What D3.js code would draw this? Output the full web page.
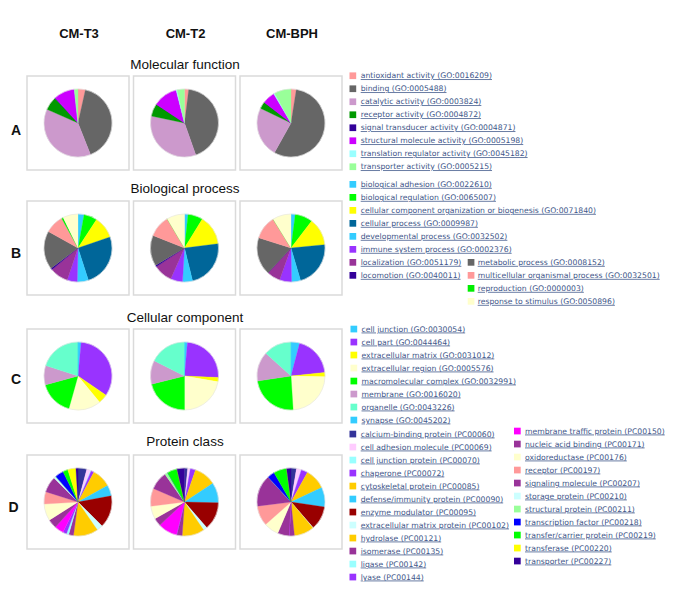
<!DOCTYPE html>
<html><head><meta charset="utf-8">
<script src="https://cdn.jsdelivr.net/npm/d3@7"></script>
<style>body{margin:0;background:#fff}</style>
</head><body>
<svg id="chart" width="673" height="596"></svg>
<script>
// ---------- DATA ----------
const columns = ["CM-T3", "CM-T2", "CM-BPH"];
const rowLetters = ["A", "B", "C", "D"];
const rowTitles = ["Molecular function", "Biological process", "Cellular component", "Protein class"];

// Molecular function
const mfCategories = ["antioxidant activity (GO:0016209)", "binding (GO:0005488)", "catalytic activity (GO:0003824)", "receptor activity (GO:0004872)", "signal transducer activity (GO:0004871)", "structural molecule activity (GO:0005198)", "translation regulator activity (GO:0045182)", "transporter activity (GO:0005215)"];
const mfColors = ["#ff9999", "#666666", "#cc99cc", "#009900", "#330099", "#cc00ff", "#99ffff", "#99ff99"];
const mfT3  = [3.5, 40.5, 37.6, 6.4, 0.3, 10.0, 0.0, 1.7];
const mfT2  = [2.0, 42.6, 33.7, 6.0, 0.0, 11.7, 0.5, 3.5];
const mfBPH = [2.5, 55.5, 24.0, 3.3, 0.0, 6.0, 0.5, 8.0];

// Biological process
const bpCategories = ["biological adhesion (GO:0022610)", "biological regulation (GO:0065007)", "cellular component organization or biogenesis (GO:0071840)", "cellular process (GO:0009987)", "developmental process (GO:0032502)", "immune system process (GO:0002376)", "localization (GO:0051179)", "locomotion (GO:0040011)", "metabolic process (GO:0008152)", "multicellular organismal process (GO:0032501)", "reproduction (GO:0000003)", "response to stimulus (GO:0050896)"];
const bpColors = ["#33ccff", "#00ff00", "#ffff00", "#006699", "#33ccff", "#9933ff", "#993399", "#330099", "#666666", "#ff9999", "#00ee00", "#ffffcc"];
const bpT3  = [2.9, 6.3, 10.5, 25.3, 5.3, 4.8, 8.8, 0.8, 18.3, 8.9, 0.8, 7.2];
const bpT2  = [1.7, 7.1, 14.2, 23.2, 4.8, 5.7, 9.0, 0.8, 14.6, 10.5, 0.0, 8.5];
const bpBPH = [2.0, 8.4, 13.0, 22.0, 4.3, 5.7, 6.4, 0.0, 18.0, 11.3, 0.0, 8.8];

// Cellular component
const ccCategories = ["cell junction (GO:0030054)", "cell part (GO:0044464)", "extracellular matrix (GO:0031012)", "extracellular region (GO:0005576)", "macromolecular complex (GO:0032991)", "membrane (GO:0016020)", "organelle (GO:0043226)", "synapse (GO:0045202)"];
const ccColors = ["#33ccff", "#9933ff", "#ffff00", "#ffffcc", "#00ff00", "#cc99cc", "#66ffcc", "#33ccff"];
const ccT3  = [1.5, 33.0, 4.5, 15.3, 16.4, 9.2, 20.0, 0.0];
const ccT2  = [1.4, 24.3, 2.0, 22.3, 21.1, 11.3, 17.6, 0.0];
const ccBPH = [4.1, 19.2, 2.1, 23.6, 23.6, 14.1, 13.3, 0.0];

// Protein class
const pcCategories = ["calcium-binding protein (PC00060)", "cell adhesion molecule (PC00069)", "cell junction protein (PC00070)", "chaperone (PC00072)", "cytoskeletal protein (PC00085)", "defense/immunity protein (PC00090)", "enzyme modulator (PC00095)", "extracellular matrix protein (PC00102)", "hydrolase (PC00121)", "isomerase (PC00135)", "ligase (PC00142)", "lyase (PC00144)", "membrane traffic protein (PC00150)", "nucleic acid binding (PC00171)", "oxidoreductase (PC00176)", "receptor (PC00197)", "signaling molecule (PC00207)", "storage protein (PC00210)", "structural protein (PC00211)", "transcription factor (PC00218)", "transfer/carrier protein (PC00219)", "transferase (PC00220)", "transporter (PC00227)"];
const pcColors = ["#333399", "#ffccff", "#99ffff", "#9933ff", "#ffcc00", "#33ccff", "#990000", "#ccffff", "#ffcc00", "#993399", "#99ffff", "#9933ff", "#ff00ff", "#993399", "#ffffcc", "#ff9999", "#993399", "#ccffff", "#99ff99", "#0000ff", "#00ff00", "#ffff00", "#330099"];
const pcT3  = [4.2, 1.9, 0.3, 1.4, 9.1, 5.2, 15.4, 2.9, 11.8, 2.3, 1.1, 1.8, 4.3, 4.4, 8.0, 5.9, 7.6, 0.8, 0.3, 4.1, 2.4, 3.9, 1.0];
const pcT2  = [1.5, 1.3, 0.0, 2.5, 10.4, 9.7, 13.2, 1.9, 10.6, 2.7, 0.0, 0.0, 9.2, 3.8, 6.2, 8.5, 8.8, 0.0, 1.4, 0.0, 4.7, 0.0, 3.6];
const pcBPH = [2.6, 2.4, 0.0, 3.1, 9.9, 9.4, 11.3, 0.3, 9.5, 2.6, 0.0, 0.0, 0.0, 5.4, 7.1, 9.6, 15.2, 0.0, 0.0, 3.4, 6.3, 0.0, 2.1];

// ---------- LAYOUT ----------
const groups = [
  {cats: mfCategories, colors: mfColors, series: [mfT3, mfT2, mfBPH], top: 76, titleY: 69, letterY: 135,
   legend: {y0: [75.7], split: 99, col2Row: 0, cols: [{sx: 349.5, tx: 360.7}]}},
  {cats: bpCategories, colors: bpColors, series: [bpT3, bpT2, bpBPH], top: 201, titleY: 193.3, letterY: 258,
   legend: {y0: [184.3, 184.3], split: 8, col2Row: 6, cols: [{sx: 349.5, tx: 360.7}, {sx: 467.7, tx: 477.7}]}},
  {cats: ccCategories, colors: ccColors, series: [ccT3, ccT2, ccBPH], top: 329, titleY: 322.3, letterY: 384,
   legend: {y0: [329], split: 99, col2Row: 0, cols: [{sx: 350.5, tx: 361.5}]}},
  {cats: pcCategories, colors: pcColors, series: [pcT3, pcT2, pcBPH], top: 455, titleY: 445.7, letterY: 511.7,
   legend: {y0: [434, 431], split: 12, col2Row: 0, cols: [{sx: 349.5, tx: 360.7}, {sx: 514, tx: 525}]}}
];
const rowStep = 13;
const boxH = 94, radius = 34;

const svg = d3.select("#chart");
svg.append("rect").attr("width", 673).attr("height", 596).attr("fill", "#fff");

const x = d3.scaleBand().domain(columns).range([27, 342]).paddingInner(0.0423).paddingOuter(0);
const pie = d3.pie().sort(null).value(d => d);
const arc = d3.arc().innerRadius(0).outerRadius(radius);

// column headers
svg.selectAll(".colhead").data(columns).join("text")
  .attr("x", d => x(d) + x.bandwidth() / 2 + 1)
  .attr("y", 38.3)
  .attr("text-anchor", "middle")
  .attr("font-family", "Liberation Sans, Arial, sans-serif")
  .attr("font-weight", "bold").attr("font-size", 13)
  .attr("fill", "#111")
  .text(d => d);

const midX = (x.range()[0] + x.range()[1]) / 2;

groups.forEach((g, gi) => {
  // title
  svg.append("text").attr("x", midX + 0.5).attr("y", g.titleY)
    .attr("text-anchor", "middle")
    .attr("font-family", "Liberation Sans, Arial, sans-serif")
    .attr("font-size", 13.5).attr("fill", "#111")
    .text(rowTitles[gi]);
  // letter
  svg.append("text").attr("x", gi === 3 ? 8.5 : 11).attr("y", g.letterY)
    .attr("font-family", "Liberation Sans, Arial, sans-serif")
    .attr("font-weight", "bold").attr("font-size", 14).attr("fill", "#111")
    .text(rowLetters[gi]);

  columns.forEach((c, ci) => {
    const gx = x(c), gy = g.top;
    const cell = svg.append("g");
    cell.append("rect").attr("x", gx).attr("y", gy)
      .attr("width", x.bandwidth()).attr("height", boxH)
      .attr("fill", "#fff").attr("stroke", "#dadada").attr("stroke-width", 1.5);
    const pg = cell.append("g").attr("transform", `translate(${gx + x.bandwidth() / 2},${gy + boxH / 2})`);
    pg.selectAll("path").data(pie(g.series[ci])).join("path")
      .attr("d", arc)
      .attr("fill", (d, i) => g.colors[i])
      .attr("stroke", (d, i) => g.colors[i]).attr("stroke-width", 0.3);
    pg.append("circle").attr("r", radius).attr("fill", "none").attr("stroke", "#e4e4e4").attr("stroke-width", 0.6);
  });

  // legend
  const cols = g.legend.cols;
  const items = g.cats.map((name, i) => {
    const col = i < g.legend.split ? 0 : 1;
    const row = col === 0 ? i : (i - g.legend.split + g.legend.col2Row);
    return {name, color: g.colors[i], col, row};
  });
  const lg = svg.append("g");
  const it = lg.selectAll("g").data(items).join("g")
    .attr("transform", d => `translate(0,${g.legend.y0[d.col] + d.row * rowStep})`);
  it.append("rect").attr("x", d => cols[d.col].sx).attr("y", -3.3)
    .attr("width", 6.7).attr("height", 6.7).attr("fill", d => d.color);
  it.append("text").attr("x", d => cols[d.col].tx).attr("y", 0).attr("dy", "0.33em")
    .attr("font-family", "DejaVu Sans, Verdana, sans-serif")
    .attr("font-size", 7.7).attr("fill", "#3e5689")
    .attr("text-decoration", "underline")
    .text(d => d.name);
});
</script>
</body></html>
